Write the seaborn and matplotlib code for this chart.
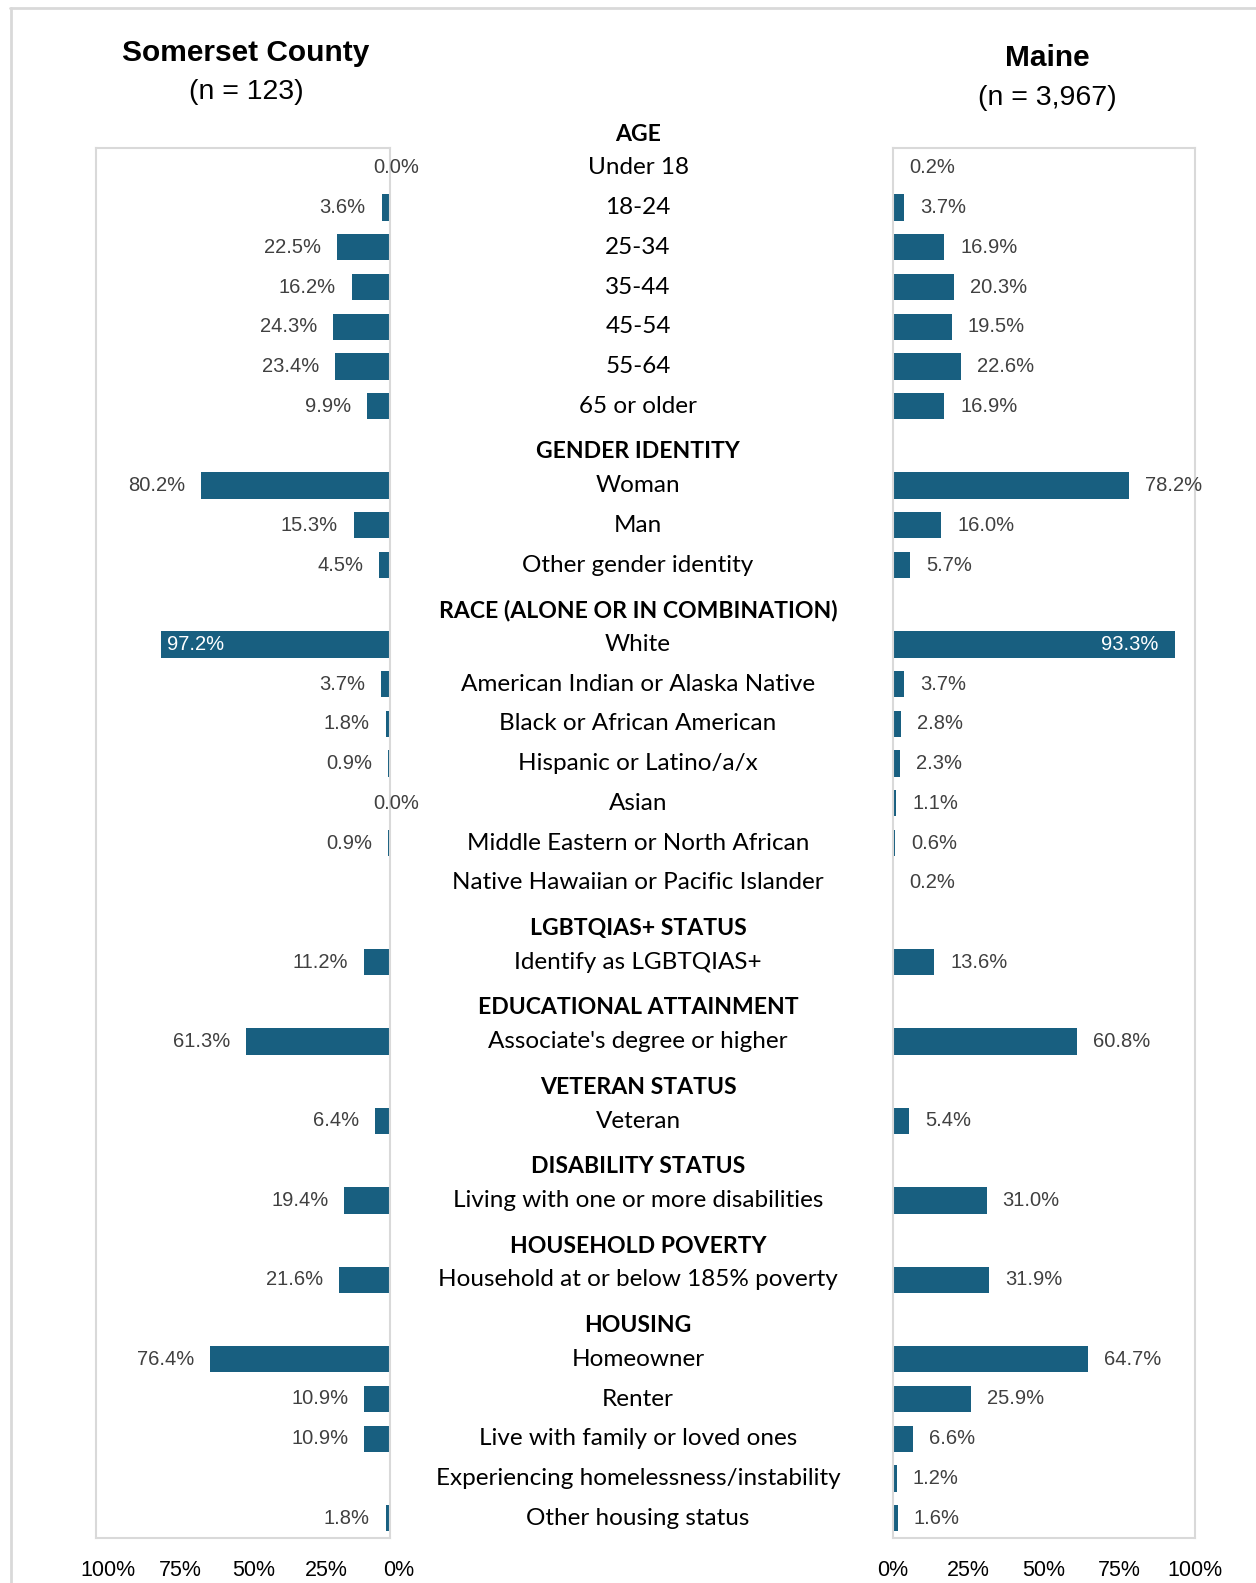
import numpy as np
import pandas as pd
import matplotlib
matplotlib.use("Agg")
import matplotlib.pyplot as plt
import seaborn as sns
from matplotlib.transforms import blended_transform_factory
from matplotlib.lines import Line2D

# ---------------- data ----------------
section_titles = ["AGE", "GENDER IDENTITY", "RACE (ALONE OR IN COMBINATION)",
                  "LGBTQIAS+ STATUS", "EDUCATIONAL ATTAINMENT", "VETERAN STATUS",
                  "DISABILITY STATUS", "HOUSEHOLD POVERTY", "HOUSING"]
section_sizes = [7, 3, 7, 1, 1, 1, 1, 1, 5]
categories = [
    "Under 18", "18-24", "25-34", "35-44", "45-54", "55-64", "65 or older",
    "Woman", "Man", "Other gender identity",
    "White", "American Indian or Alaska Native", "Black or African American",
    "Hispanic or Latino/a/x", "Asian", "Middle Eastern or North African",
    "Native Hawaiian or Pacific Islander",
    "Identify as LGBTQIAS+",
    "Associate's degree or higher",
    "Veteran",
    "Living with one or more disabilities",
    "Household at or below 185% poverty",
    "Homeowner", "Renter", "Live with family or loved ones",
    "Experiencing homelessness/instability", "Other housing status",
]
somerset_pct = [0.0, 3.6, 22.5, 16.2, 24.3, 23.4, 9.9,
                80.2, 15.3, 4.5,
                97.2, 3.7, 1.8, 0.9, 0.0, 0.9, np.nan,
                11.2, 61.3, 6.4, 19.4, 21.6,
                76.4, 10.9, 10.9, np.nan, 1.8]
maine_pct = [0.2, 3.7, 16.9, 20.3, 19.5, 22.6, 16.9,
             78.2, 16.0, 5.7,
             93.3, 3.7, 2.8, 2.3, 1.1, 0.6, 0.2,
             13.6, 60.8, 5.4, 31.0, 31.9,
             64.7, 25.9, 6.6, 1.2, 1.6]
left_title, left_n = "Somerset County", "(n = 123)"
right_title, right_n = "Maine", "(n = 3,967)"
tick_labels = ["0%", "25%", "50%", "75%", "100%"]

# ---------------- style ----------------
sns.set_style("white")
plt.rcParams["font.family"] = ["Lato", "DejaVu Sans"]
BAR = "#185f80"
FRAME = "#d9d9d9"
LABEL_C = "#404040"
NUMFONT = ["Liberation Sans", "DejaVu Sans"]

# slot layout (blank slot for each section header except the first)
slot_keys, header_slot = [], []
i = 0
for s, (title, size) in enumerate(zip(section_titles, section_sizes)):
    if s == 0:
        header_slot.append(-1)
    else:
        header_slot.append(len(slot_keys))
        slot_keys.append(f"__blank{s}")
    slot_keys.extend(categories[i:i + size])
    i += size
nslots = len(slot_keys)

df = pd.DataFrame({"category": categories, "somerset": somerset_pct, "maine": maine_pct})
df["slot"] = [slot_keys.index(c) for c in df["category"]]

W, H = 1256, 1583
fig = plt.figure(figsize=(W / 100, H / 100), dpi=100)
ax_bottom = 1 - 1538 / H
ax_height = 1390 / H
axL = fig.add_axes([96 / W, ax_bottom, 294 / W, ax_height])
axR = fig.add_axes([893 / W, ax_bottom, 302 / W, ax_height])

sns.barplot(data=df.dropna(subset=["somerset"]), x="somerset", y="category",
            order=slot_keys, orient="h", color=BAR, saturation=1, width=0.66,
            linewidth=0, ax=axL)
sns.barplot(data=df, x="maine", y="category",
            order=slot_keys, orient="h", color=BAR, saturation=1, width=0.66,
            linewidth=0, ax=axR)

axL.set_xlim(125, 0)
axR.set_xlim(0, 100)
for ax in (axL, axR):
    ax.set_ylim(nslots - 0.5, -0.5)
    ax.set_xticks([])
    ax.set_yticks([])
    ax.set_xlabel("")
    ax.set_ylabel("")
    for sp in ax.spines.values():
        sp.set_visible(True)
        sp.set_color(FRAME)
        sp.set_linewidth(1.5)

# value labels
for _, r in df.iterrows():
    y = r["slot"]
    v = r["somerset"]
    if not np.isnan(v):
        txt = f"{v:.1f}%"
        if v > 90:
            axL.annotate(txt, (v, y), xytext=(6, 0), textcoords="offset pixels",
                         ha="left", va="center", color="white", fontsize=14.5, family=NUMFONT)
        elif v == 0:
            axL.annotate(txt, (v, y), xytext=(-17, 0), textcoords="offset pixels",
                         ha="left", va="center", color=LABEL_C, fontsize=14.5, family=NUMFONT,
                         annotation_clip=False)
        else:
            axL.annotate(txt, (v, y), xytext=(-16, 0), textcoords="offset pixels",
                         ha="right", va="center", color=LABEL_C, fontsize=14.5, family=NUMFONT)
    v = r["maine"]
    if not np.isnan(v):
        txt = f"{v:.1f}%"
        if v > 90:
            axR.annotate(txt, (v, y), xytext=(-16, 0), textcoords="offset pixels",
                         ha="right", va="center", color="white", fontsize=14.5, family=NUMFONT)
        else:
            axR.annotate(txt, (v, y), xytext=(16, 0), textcoords="offset pixels",
                         ha="left", va="center", color=LABEL_C, fontsize=14.5, family=NUMFONT)

# center labels
tr = blended_transform_factory(fig.transFigure, axL.transData)
cx = 638 / W
for c in categories:
    fig.text(cx, slot_keys.index(c), c, transform=tr, ha="center", va="center",
             fontsize=17.5, color="black")
for t, hs in zip(section_titles, header_slot):
    fig.text(cx, hs + 0.15, t, transform=tr, ha="center", va="center",
             fontsize=16.6, fontweight="bold", color="black")

# x tick labels
ty = 1 - 1570 / H
trL = blended_transform_factory(axL.transAxes, fig.transFigure)
trR = blended_transform_factory(axR.transAxes, fig.transFigure)
for k, lab in enumerate(tick_labels):
    axL.text(1.03 - 0.2475 * k, ty, lab, transform=trL, ha="center", va="center",
             fontsize=15.5, family=NUMFONT, color="black", clip_on=False)
    axR.text(0.25 * k, ty, lab, transform=trR, ha="center", va="center",
             fontsize=15.5, family=NUMFONT, color="black", clip_on=False)

# panel titles
TF = ["Liberation Sans", "DejaVu Sans"]
fig.text(246 / W, 1 - 53 / H, left_title, ha="center", va="center", fontsize=21.5,
         fontweight="bold", family=TF, color="black")
fig.text(246 / W, 1 - 92 / H, left_n, ha="center", va="center", fontsize=20.5,
         family=TF, color="black")
fig.text(1047 / W, 1 - 58 / H, right_title, ha="center", va="center", fontsize=21.5,
         fontweight="bold", family=TF, color="black")
fig.text(1047 / W, 1 - 98 / H, right_n, ha="center", va="center", fontsize=20.5,
         family=TF, color="black")

# outer frame lines
fig.add_artist(Line2D([10 / W, 1], [1 - 8 / H, 1 - 8 / H], transform=fig.transFigure,
                      color=FRAME, lw=2))
fig.add_artist(Line2D([11 / W, 11 / W], [0, 1 - 8 / H], transform=fig.transFigure,
                      color=FRAME, lw=2))

fig.savefig("out.png", dpi=100)
